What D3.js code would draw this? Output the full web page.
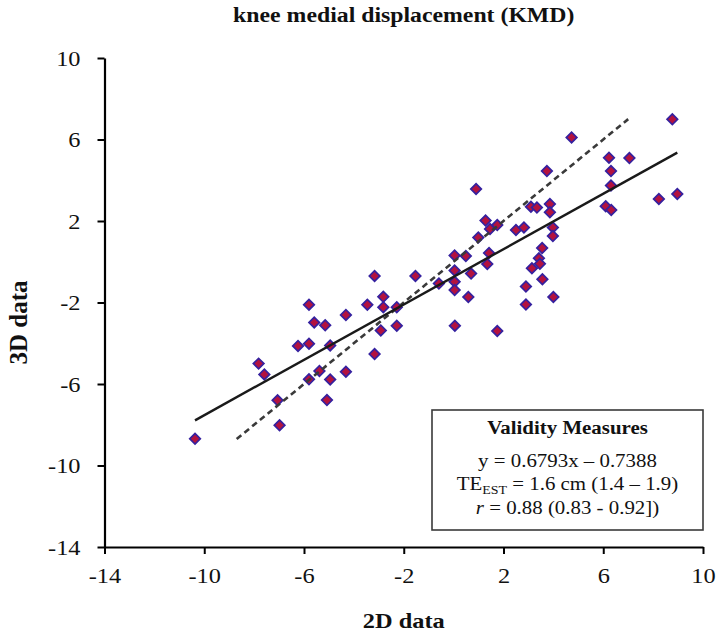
<!DOCTYPE html>
<html>
<head>
<meta charset="utf-8">
<script src="https://cdn.jsdelivr.net/npm/d3@7"></script>
<style>
  body { margin: 0; background: #fff; }
  text { font-family: "Liberation Serif", "Times New Roman", serif; fill: #111; }
</style>
</head>
<body>
<script>
const xValues = [8.77, 4.73, 6.23, 7.05, 3.74, 6.31, 0.90, 6.31, 8.23, 8.97,
                 3.10, 3.34, 3.86, 3.86, 6.10, 6.32, 1.28, 1.46, 1.75, 2.50,
                 2.82, 3.98, 3.98, 0.99, 0.04, 0.49, 1.42, 1.35, 3.55, 3.42,
                 3.46, 3.14, 0.04, 0.70, -0.59, 0.04, 0.04, 0.59, 3.56, 2.90,
                 4.00, 2.90, 0.05, 1.75, -3.17, -1.53, -5.80, -2.82, -3.46, -2.82,
                 -2.28, -4.32, -5.59, -5.15, -2.92, -2.28, -6.24, -5.80, -4.95, -3.17,
                 -7.82, -7.59, -5.38, -4.32, -5.80, -4.95, -7.06, -5.08, -6.98, -10.37];
const yValues = [6.99, 6.10, 5.11, 5.09, 4.45, 4.45, 3.57, 3.74, 3.08, 3.33,
                 2.70, 2.66, 2.83, 2.43, 2.72, 2.54, 2.02, 1.61, 1.80, 1.56,
                 1.68, 1.68, 1.26, 1.19, 0.31, 0.28, 0.43, -0.11, 0.67, 0.17,
                 -0.10, -0.32, -0.43, -0.58, -1.07, -0.98, -1.39, -1.73, -0.86, -1.22,
                 -1.73, -2.10, -3.14, -3.40, -0.70, -0.70, -2.11, -1.72, -2.11, -2.23,
                 -2.23, -2.61, -2.98, -3.12, -3.37, -3.14, -4.13, -4.02, -4.11, -4.53,
                 -5.00, -5.53, -5.36, -5.40, -5.77, -5.78, -6.80, -6.79, -8.03, -8.69];

const xTicks = [-14, -10, -6, -2, 2, 6, 10];
const yTicks = [-14, -10, -6, -2, 2, 6, 10];

// regression from the box, and line of identity
const fitSlope = 0.6793, fitIntercept = -0.7388;
const fitRange = [-10.37, 8.97];
const identityRange = [-8.7, 7.0];

const chartTitle = "knee medial displacement (KMD)";
const xTitle = "2D data", yTitle = "3D data";

const WIDTH = 721, HEIGHT = 635;
const PAD = {left: 104.5, right: 18, top: 58, bottom: 88};
const SX = 1.16; // the source is a bit stretched sideways

const svg = d3.select("body").append("svg")
  .attr("width", WIDTH).attr("height", HEIGHT);

const x = d3.scaleLinear().domain([-14, 10]).range([PAD.left, WIDTH - PAD.right]);
const y = d3.scaleLinear().domain([-14, 10]).range([HEIGHT - PAD.bottom, PAD.top]);

function wide(sel) {
  sel.each(function() {
    const t = d3.select(this);
    const tx = +t.attr("x") || 0;
    t.attr("x", tx / SX).attr("transform", `scale(${SX},1)`);
  });
}

// points
const pts = xValues.map((v, i) => ({x: v, y: yValues[i]}));
const diamond = d3.symbol().type(d3.symbolSquare).size(56);
svg.append("g").selectAll("path")
  .data(pts).enter().append("path")
  .attr("d", diamond)
  .attr("transform", d => `translate(${x(d.x)},${y(d.y)}) rotate(45)`)
  .attr("fill", "#b3123f")
  .attr("stroke", "#35219f")
  .attr("stroke-width", 1.7);

// lines
const line = d3.line().x(d => x(d[0])).y(d => y(d[1]));
svg.append("path")
  .datum(identityRange.map(v => [v, v]))
  .attr("d", line)
  .attr("fill", "none").attr("stroke", "#3a3a3a")
  .attr("stroke-width", 2.6).attr("stroke-dasharray", "6,4");
svg.append("path")
  .datum(fitRange.map(v => [v, fitSlope * v + fitIntercept]))
  .attr("d", line)
  .attr("fill", "none").attr("stroke", "#1a1a1a")
  .attr("stroke-width", 2.4);

// axes
const gx = svg.append("g")
  .attr("transform", `translate(0,${y(-14)})`)
  .call(d3.axisBottom(x).tickValues(xTicks).tickSize(7).tickSizeOuter(0).tickFormat(d => String(d)));
const gy = svg.append("g")
  .attr("transform", `translate(${x(-14)},0)`)
  .call(d3.axisLeft(y).tickValues(yTicks).tickSize(7).tickSizeOuter(0).tickFormat(d => String(d)));

[gx, gy].forEach(g => {
  g.select(".domain").attr("stroke", "#000").attr("stroke-width", 2.2);
  g.selectAll(".tick line").attr("stroke", "#000").attr("stroke-width", 2);
  g.selectAll(".tick text").attr("font-family", "Liberation Serif, serif")
    .attr("font-size", 21).attr("fill", "#1a1a1a");
});
gx.selectAll(".tick text").attr("y", 36).attr("dy", 0);
gy.selectAll(".tick text").attr("x", -24).attr("dy", "0.34em");
gx.selectAll(".tick text").call(wide);
gy.selectAll(".tick text").call(wide);

// titles
const plotMid = (x(-14) + x(10)) / 2;
svg.append("text")
  .attr("x", plotMid / SX).attr("y", 22)
  .attr("transform", `scale(${SX},1)`)
  .attr("text-anchor", "middle").attr("font-weight", "bold").attr("font-size", 20.5)
  .text(chartTitle);
svg.append("text")
  .attr("x", plotMid / SX).attr("y", 628)
  .attr("transform", `scale(${SX},1)`)
  .attr("text-anchor", "middle").attr("font-weight", "bold").attr("font-size", 21)
  .text(xTitle);
svg.append("text")
  .attr("transform", `translate(27,${(y(10) + y(-14)) / 2 + 20}) rotate(-90)`)
  .attr("text-anchor", "middle").attr("font-weight", "bold").attr("font-size", 25)
  .text(yTitle);

// validity box
const box = {x0: 432, x1: 703, y0: 410, y1: 530};
svg.append("rect")
  .attr("x", box.x0).attr("y", box.y0)
  .attr("width", box.x1 - box.x0).attr("height", box.y1 - box.y0)
  .attr("fill", "#fff").attr("stroke", "#3a3a3a").attr("stroke-width", 1.6);
const bx = (box.x0 + box.x1) / 2 / SX;
const bt = svg.append("g").attr("transform", `scale(${SX},1)`)
  .attr("text-anchor", "middle").attr("font-size", 18);
bt.append("text").attr("x", bx).attr("y", 434).attr("font-weight", "bold").text("Validity Measures");
bt.append("text").attr("x", bx).attr("y", 467).text("y = 0.6793x \u2013 0.7388");
const te = bt.append("text").attr("x", bx).attr("y", 490);
te.append("tspan").text("TE");
te.append("tspan").attr("font-size", 12).attr("dy", 4).text("EST");
te.append("tspan").attr("dy", -4).text(" = 1.6 cm (1.4 \u2013 1.9)");
const rr = bt.append("text").attr("x", bx).attr("y", 514);
rr.append("tspan").attr("font-style", "italic").text("r");
rr.append("tspan").text(" = 0.88 (0.83 - 0.92])");
</script>
</body>
</html>
